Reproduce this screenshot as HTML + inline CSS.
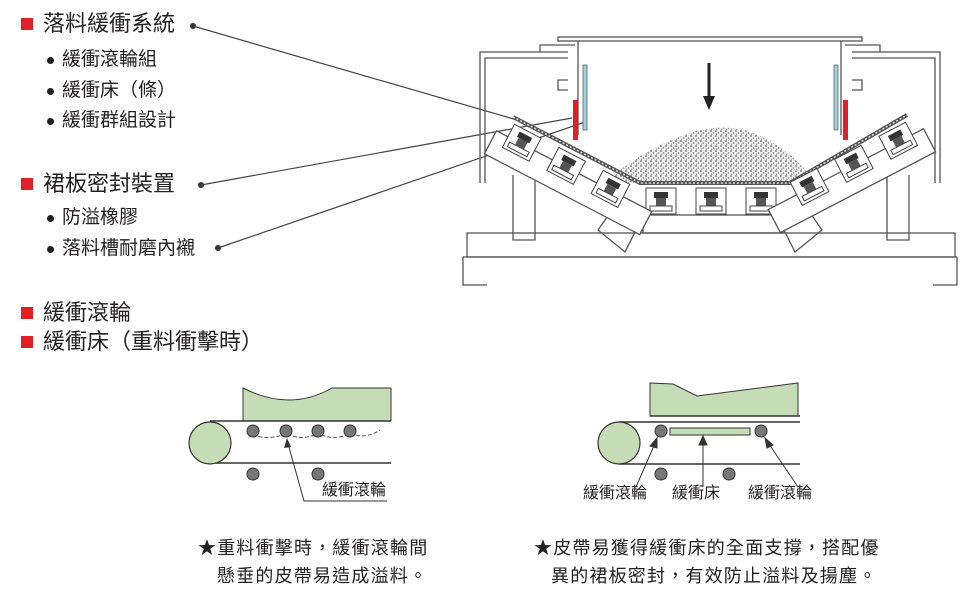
<!DOCTYPE html>
<html><head><meta charset="utf-8"><style>
body{margin:0;background:#fff;width:980px;height:594px;overflow:hidden;position:relative;font-family:"Liberation Sans","Noto Sans CJK TC",sans-serif;color:#231f20}
.t{position:absolute;white-space:nowrap;line-height:1}
.h{font-size:22px}
.b{font-size:19px}
.sq{position:absolute;width:12px;height:12px;background:#e31e24}
.dot{position:absolute;width:7px;height:7px;border-radius:50%;background:#231f20}
.c{font-size:18px;letter-spacing:1.2px}
</style></head><body>
<div class="sq" style="left:21px;top:18px"></div><div class="t h" style="left:43px;top:13px">落料緩衝系統</div>
<div class="dot" style="left:47px;top:57px"></div><div class="t b" style="left:62px;top:50px">緩衝滾輪組</div>
<div class="dot" style="left:47px;top:88px"></div><div class="t b" style="left:62px;top:81px">緩衝床（條）</div>
<div class="dot" style="left:47px;top:118px"></div><div class="t b" style="left:62px;top:111px">緩衝群組設計</div>
<div class="sq" style="left:21px;top:178px"></div><div class="t h" style="left:43px;top:173px">裙板密封裝置</div>
<div class="dot" style="left:47px;top:215px"></div><div class="t b" style="left:62px;top:208px">防溢橡膠</div>
<div class="dot" style="left:47px;top:246px"></div><div class="t b" style="left:62px;top:239px">落料槽耐磨內襯</div>
<div class="sq" style="left:21px;top:307px"></div><div class="t h" style="left:43px;top:302px">緩衝滾輪</div>
<div class="sq" style="left:21px;top:336px"></div><div class="t h" style="left:43px;top:331px">緩衝床（重料衝擊時）</div>

<svg width="980" height="594" style="position:absolute;left:0;top:0">
<defs>
<pattern id="st" width="5" height="5" patternUnits="userSpaceOnUse">
<rect width="5" height="5" fill="#eee"/><circle cx="1" cy="1" r="0.9" fill="#666"/><circle cx="3.5" cy="3" r="0.8" fill="#777"/><circle cx="1.5" cy="4.2" r="0.6" fill="#888"/>
</pattern>
<g id="rb"><rect x="0" y="0" width="30" height="26" fill="#fff" stroke="#444"/><rect x="8" y="4" width="14" height="6" fill="#333"/><rect x="10" y="10" width="10" height="8" fill="#555"/><rect x="4" y="18" width="22" height="5" fill="#fff" stroke="#444"/></g>
</defs>
<g stroke="#444" stroke-width="1.2" fill="#333">
<circle cx="193" cy="26" r="2.5"/><line x1="193" y1="26" x2="517" y2="120"/>
<circle cx="201" cy="185" r="2.5"/><line x1="201" y1="185" x2="572" y2="118"/>
<circle cx="218" cy="248" r="2.5"/><line x1="218" y1="248" x2="585" y2="122"/>
</g>
<g fill="none" stroke="#555" stroke-width="1.3">
<rect x="558" y="37" width="304" height="4"/>
<line x1="578" y1="41" x2="578" y2="135"/><line x1="841" y1="41" x2="841" y2="135"/>
<path d="M480 183 V52 H568 M485 183 V58 H568"/>
<path d="M540 52 V45 H575"/>
<path d="M940 183 V52 H852 M935 183 V58 H852"/>
<path d="M880 52 V45 H845"/>
<path d="M568 80 h-10 v10 h10 M852 80 h10 v10 h-10"/>
<rect x="467" y="233" width="488" height="24"/>
<path d="M463 257 V285 H487 M957 257 V285 H933"/>
<line x1="463" y1="257" x2="957" y2="257"/>
<path d="M513 175 V240 H535 V175"/><path d="M887 175 V240 H909 V175"/>
<path d="M598 230 L612 210 L640 222 L625 252 Z"/><path d="M822 230 L808 210 L780 222 L795 252 Z"/>
<rect x="643" y="215" width="140" height="18"/>
</g>
<path d="M605 183 Q640 150 690 133 Q715 124 745 130 Q790 145 815 183 Z" fill="url(#st)"/>
<path d="M513 117 L640 183 L790 183 L907 115" fill="none" stroke="#555" stroke-width="4"/>
<path d="M513 117 L640 183 L790 183 L907 115" fill="none" stroke="#ddd" stroke-width="1.5" stroke-dasharray="2 2"/>
<use href="#rb" x="646" y="188"/><use href="#rb" x="696" y="188"/><use href="#rb" x="746" y="188"/>
<g transform="translate(510,122) rotate(27.5)">
<rect x="-8" y="14" width="175" height="26" fill="#fff" stroke="#555" stroke-width="1.3"/>
<use href="#rb" x="5" y="0"/><use href="#rb" x="55" y="0"/><use href="#rb" x="105" y="0"/>
</g>
<g transform="translate(910,120) scale(-1,1) rotate(27.5)">
<rect x="-8" y="14" width="175" height="26" fill="#fff" stroke="#555" stroke-width="1.3"/>
<use href="#rb" x="5" y="0"/><use href="#rb" x="55" y="0"/><use href="#rb" x="105" y="0"/>
</g>
<rect x="583" y="65" width="4" height="65" fill="#9cd3dc" stroke="#666" stroke-width="0.8"/>
<rect x="573" y="100" width="5" height="40" fill="#e31e24"/>
<rect x="834" y="65" width="4" height="65" fill="#9cd3dc" stroke="#666" stroke-width="0.8"/>
<rect x="843" y="100" width="5" height="40" fill="#e31e24"/>
<line x1="709" y1="63" x2="709" y2="98" stroke="#222" stroke-width="3"/>
<path d="M703 96 L715 96 L709 110 Z" fill="#222"/>

<path d="M243 388 Q290 412 332 388 H391 V421 H243 Z" fill="#c5dcb6" stroke="#333" stroke-width="1"/>
<line x1="210" y1="421" x2="391" y2="421" stroke="#333" stroke-width="1.5"/>
<line x1="210" y1="463" x2="391" y2="463" stroke="#333" stroke-width="1.5"/>
<circle cx="210" cy="443" r="21" fill="#c5dcb6" stroke="#333" stroke-width="1.2"/>
<path d="M247 433 Q270 442 286 433 Q302 442 318 433 Q334 442 350 433 Q365 440 380 430" fill="none" stroke="#555" stroke-dasharray="4 2"/>
<g fill="#777" stroke="#333"><circle cx="253" cy="431" r="6"/><circle cx="286" cy="431" r="6"/><circle cx="318" cy="431" r="6"/><circle cx="350" cy="431" r="6"/><circle cx="253" cy="474" r="6"/><circle cx="318" cy="474" r="6"/></g>
<path d="M387 501 H304 L287 440" fill="none" stroke="#333"/><path d="M287 438 L284 448 L291 447 Z" fill="#333"/>
<text x="322" y="495" font-size="16" fill="#231f20" font-family="Liberation Sans,Noto Sans CJK TC,sans-serif">緩衝滾輪</text>

<path d="M650 383 L673 384 L697 396 L798 383 V416 H650 Z" fill="#c5dcb6" stroke="#333"/>
<line x1="650" y1="416" x2="800" y2="416" stroke="#333" stroke-width="1.5"/>
<line x1="619" y1="422" x2="800" y2="422" stroke="#333" stroke-width="1.5"/>
<line x1="619" y1="464" x2="800" y2="464" stroke="#333" stroke-width="1.5"/>
<ellipse cx="619" cy="443" rx="21" ry="21" fill="#c5dcb6" stroke="#333" stroke-width="1.2"/>
<rect x="670" y="428" width="80" height="7" fill="#c5dcb6" stroke="#333"/>
<g fill="#777" stroke="#333"><circle cx="661" cy="431" r="6"/><circle cx="761" cy="431" r="6"/><circle cx="661" cy="474" r="6"/><circle cx="729" cy="474" r="6"/></g>
<g stroke="#333" fill="#333">
<line x1="636" y1="487" x2="656" y2="441"/><path d="M657 438 L650 446 L657 448 Z"/>
<line x1="703" y1="487" x2="703" y2="440"/><path d="M703 436 L699 445 L707 445 Z"/>
<line x1="798" y1="487" x2="767" y2="441"/><path d="M765 438 L767 448 L773 445 Z"/>
</g>
<g font-size="16" fill="#231f20" font-family="Liberation Sans,Noto Sans CJK TC,sans-serif">
<text x="583" y="498">緩衝滾輪</text><text x="672" y="498">緩衝床</text><text x="748" y="498">緩衝滾輪</text>
</g>
</svg>
<div class="t c" style="left:198px;top:539px">★重料衝擊時，緩衝滾輪間</div>
<div class="t c" style="left:217px;top:567px">懸垂的皮帶易造成溢料。</div>
<div class="t c" style="left:534px;top:539px">★皮帶易獲得緩衝床的全面支撐，搭配優</div>
<div class="t c" style="left:551px;top:567px">異的裙板密封，有效防止溢料及揚塵。</div>
</body></html>
